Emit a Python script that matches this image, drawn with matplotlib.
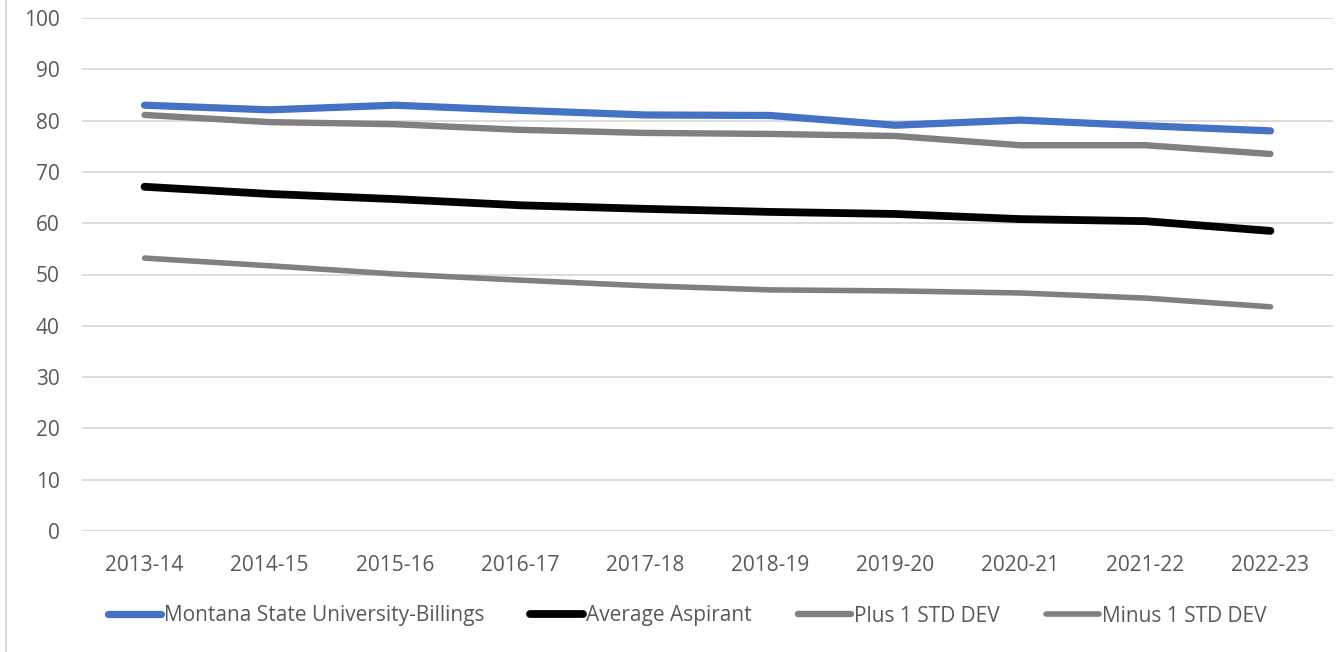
import matplotlib.pyplot as plt
from matplotlib.lines import Line2D

years = ['2013-14', '2014-15', '2015-16', '2016-17', '2017-18',
         '2018-19', '2019-20', '2020-21', '2021-22', '2022-23']
msub = [83.0, 82.1, 83.0, 82.0, 81.1, 81.0, 79.1, 80.1, 79.0, 78.0]
avg_aspirant = [67.1, 65.7, 64.7, 63.5, 62.8, 62.2, 61.8, 60.8, 60.4, 58.5]
plus_1sd = [81.1, 79.7, 79.3, 78.2, 77.6, 77.4, 77.0, 75.2, 75.2, 73.5]
minus_1sd = [53.2, 51.7, 50.1, 48.9, 47.8, 47.0, 46.8, 46.4, 45.4, 43.7]

plt.rcParams['font.family'] = ['Open Sans', 'DejaVu Sans']
text_color = '#595959'
fs = 15

fig = plt.figure(figsize=(13.38, 6.52), dpi=100)
ax = fig.add_axes([82 / 1338, 1 - 531 / 652, (1333 - 82) / 1338, (531 - 18) / 652])

x = range(len(years))
ax.plot(x, msub, color='#4472c4', linewidth=5.2, solid_capstyle='round',
        label='Montana State University-Billings', zorder=5)
ax.plot(x, avg_aspirant, color='#000000', linewidth=5.6, solid_capstyle='round',
        label='Average Aspirant', zorder=4)
ax.plot(x, plus_1sd, color='#808080', linewidth=4.6, solid_capstyle='round',
        label='Plus 1 STD DEV', zorder=3)
ax.plot(x, minus_1sd, color='#808080', linewidth=4.0, solid_capstyle='round',
        label='Minus 1 STD DEV', zorder=3)

ax.set_xlim(-0.5, 9.5)
ax.set_ylim(0, 100)
ax.set_yticks(range(0, 101, 10))
ax.set_xticks(list(x))
ax.set_xticklabels(years)
ax.tick_params(length=0, labelsize=fs, colors=text_color)
ax.tick_params(axis='x', pad=17)
ax.tick_params(axis='y', pad=16)
ax.grid(axis='y', color='#d9d9d9', linewidth=1.3)
ax.set_axisbelow(True)
for s in ax.spines.values():
    s.set_visible(False)

handles, labels = ax.get_legend_handles_labels()
leg = fig.legend(handles, labels, loc='center',
                 bbox_to_anchor=(687 / 1338, 1 - 616 / 652),
                 ncol=4, frameon=False, fontsize=fs, handlelength=2.55,
                 handletextpad=0.15, columnspacing=2.2, labelcolor=text_color)

# chart border on the left
fig.add_artist(Line2D([6 / 1338, 6 / 1338], [0, 1], color='#d9d9d9', linewidth=1.5))

fig.savefig('out.png', dpi=100)
